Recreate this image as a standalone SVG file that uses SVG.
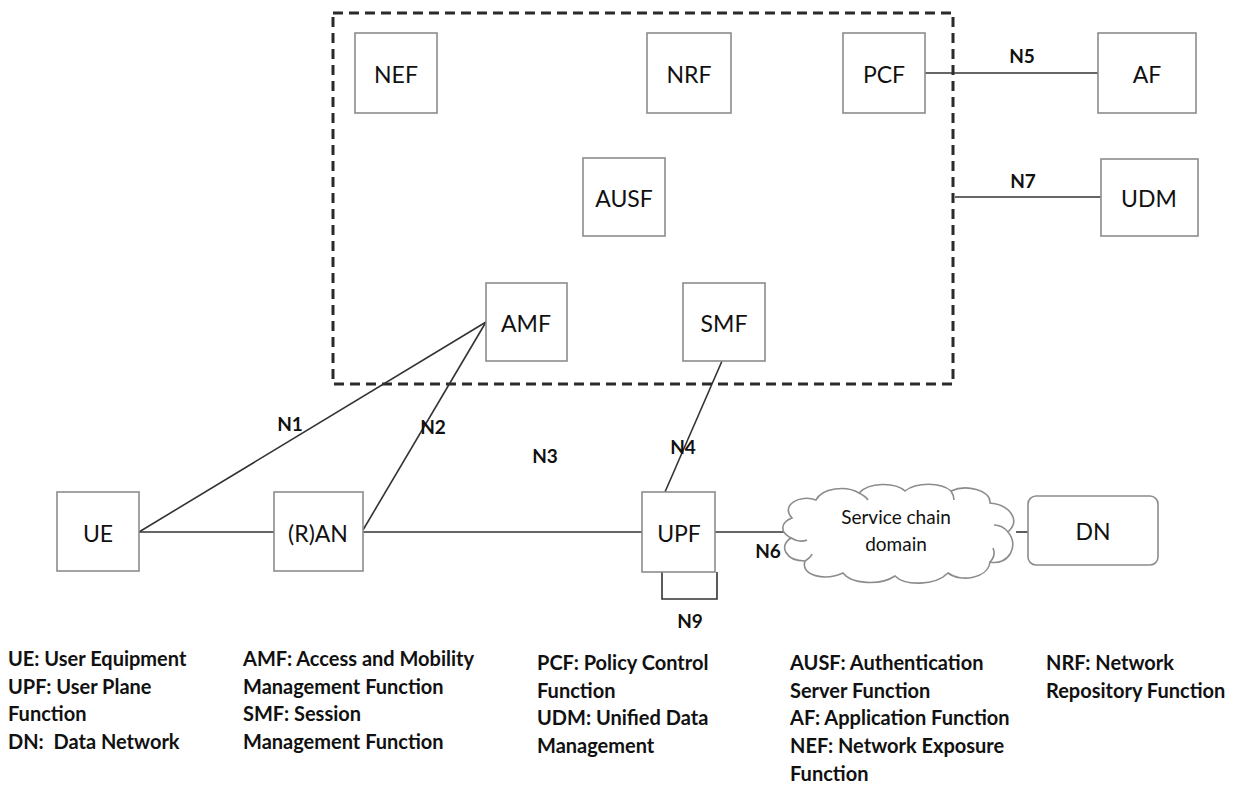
<svg xmlns="http://www.w3.org/2000/svg" width="1236" height="789" viewBox="0 0 1236 789">
  <style>
    .box { fill: #ffffff; stroke: #8c8c8c; stroke-width: 1.6; }
    .domain { fill: none; stroke: #2a2a2a; stroke-width: 3; stroke-dasharray: 10 6; }
    .link { fill: none; stroke: #333333; stroke-width: 1.6; }
    .cloud { fill: #ffffff; stroke: #8c8c8c; stroke-width: 1.6; }
    .name { font-family: Lato, "Liberation Sans", sans-serif; font-size: 23px; fill: #111111; text-anchor: middle; dominant-baseline: central; }
    .tag { font-family: Lato, "Liberation Sans", sans-serif; font-size: 19px; font-weight: bold; fill: #111111; text-anchor: middle; dominant-baseline: central; }
    .note { font-family: Lato, "Liberation Sans", sans-serif; font-size: 20px; font-weight: bold; fill: #111111; }
    .cloudtext { font-family: Lato, "Liberation Sans", sans-serif; font-size: 19px; fill: #111111; text-anchor: middle; dominant-baseline: central; }
  </style>
  <rect width="1236" height="789" fill="#ffffff"/>

  <!-- core network domain -->
  <rect class="domain" x="333" y="13" width="620" height="371"/>

  <!-- interfaces -->
  <g id="connectors">
    <line class="link" x1="139" y1="532" x2="486" y2="322"/>
    <line class="link" x1="363" y1="530" x2="486" y2="322"/>
    <line class="link" x1="139" y1="532" x2="274" y2="532"/>
    <line class="link" x1="363" y1="532" x2="642" y2="532"/>
    <line class="link" x1="722" y1="361" x2="665" y2="492"/>
    <line class="link" x1="925" y1="73" x2="1098" y2="73"/>
    <line class="link" x1="955" y1="197" x2="1101" y2="197"/>
    <line class="link" x1="715" y1="532" x2="784" y2="532"/>
    <line class="link" x1="1016" y1="532" x2="1028" y2="532"/>
    <polyline class="link" points="662,572 662,599 717,599 717,572"/>
    <text class="tag" x="290" y="423">N1</text>
    <text class="tag" x="433" y="426">N2</text>
    <text class="tag" x="545" y="455">N3</text>
    <text class="tag" x="683" y="446">N4</text>
    <text class="tag" x="1022" y="55">N5</text>
    <text class="tag" x="768" y="550">N6</text>
    <text class="tag" x="1023" y="180">N7</text>
    <text class="tag" x="690" y="620">N9</text>
  </g>

  <g id="nef"><rect class="box" x="355" y="33" width="82" height="80"/><text class="name" x="396" y="74">NEF</text></g>
  <g id="nrf"><rect class="box" x="647" y="33" width="84" height="80"/><text class="name" x="689" y="74">NRF</text></g>
  <g id="pcf"><rect class="box" x="843" y="33" width="82" height="80"/><text class="name" x="884" y="74">PCF</text></g>
  <g id="af"><rect class="box" x="1098" y="33" width="98" height="80"/><text class="name" x="1147" y="74">AF</text></g>
  <g id="ausf"><rect class="box" x="583" y="158" width="82" height="78"/><text class="name" x="624" y="198">AUSF</text></g>
  <g id="udm"><rect class="box" x="1101" y="159" width="97" height="77"/><text class="name" x="1149" y="198">UDM</text></g>
  <g id="amf"><rect class="box" x="486" y="283" width="81" height="78"/><text class="name" x="526" y="323">AMF</text></g>
  <g id="smf"><rect class="box" x="683" y="283" width="82" height="78"/><text class="name" x="724" y="323">SMF</text></g>
  <g id="ue"><rect class="box" x="57" y="492" width="82" height="79"/><text class="name" x="98" y="533">UE</text></g>
  <g id="ran"><rect class="box" x="274" y="492" width="89" height="79"/><text class="name" x="318" y="533">(R)AN</text></g>
  <g id="upf"><rect class="box" x="642" y="492" width="73" height="80"/><text class="name" x="679" y="533">UPF</text></g>

  <g id="service-chain">
    <path class="cloud" d="M 792,518 C 780,505 800,494 816,500 C 822,488 846,485 859,493 C 869,482 895,482 905,491 C 916,482 941,482 951,491 C 966,484 991,490 990,503 C 1010,505 1021,520 1008,532 C 1020,546 1008,566 990,562 C 988,578 961,583 948,573 C 935,586 905,586 895,576 C 880,586 851,584 843,573 C 825,581 800,576 805,561 C 786,561 778,546 791,538 C 779,532 781,522 792,518 Z"/>
    <path class="cloud" d="M 791,538 C 796,541 802,542 807,540 M 805,561 C 808,559 811,557 812,554 M 990,562 C 994,558 995,553 993,548 M 1008,532 C 1004,527 999,525 994,525 M 951,491 C 953,494 954,497 954,500 M 859,493 C 863,495 866,497 868,500"/>
    <text class="cloudtext" x="896" y="516">Service chain</text>
    <text class="cloudtext" x="896" y="543">domain</text>
  </g>

  <g id="dn"><rect class="box" x="1028" y="496" width="130" height="69" rx="8"/><text class="name" x="1093" y="531">DN</text></g>

  <!-- abbreviation key -->
  <g id="legend">
    <text class="note" x="8" y="666">UE: User Equipment</text>
    <text class="note" x="8" y="694">UPF: User Plane</text>
    <text class="note" x="8" y="721">Function</text>
    <text class="note" x="8" y="749" xml:space="preserve">DN:  Data Network</text>
    <text class="note" x="243" y="666">AMF: Access and Mobility</text>
    <text class="note" x="243" y="694">Management Function</text>
    <text class="note" x="243" y="721">SMF: Session</text>
    <text class="note" x="243" y="749">Management Function</text>
    <text class="note" x="537" y="670">PCF: Policy Control</text>
    <text class="note" x="537" y="698">Function</text>
    <text class="note" x="537" y="725">UDM: Unified Data</text>
    <text class="note" x="537" y="753">Management</text>
    <text class="note" x="790" y="670">AUSF: Authentication</text>
    <text class="note" x="790" y="698">Server Function</text>
    <text class="note" x="790" y="725">AF: Application Function</text>
    <text class="note" x="790" y="753">NEF: Network Exposure</text>
    <text class="note" x="790" y="781">Function</text>
    <text class="note" x="1046" y="670">NRF: Network</text>
    <text class="note" x="1046" y="698">Repository Function</text>
  </g>
</svg>
